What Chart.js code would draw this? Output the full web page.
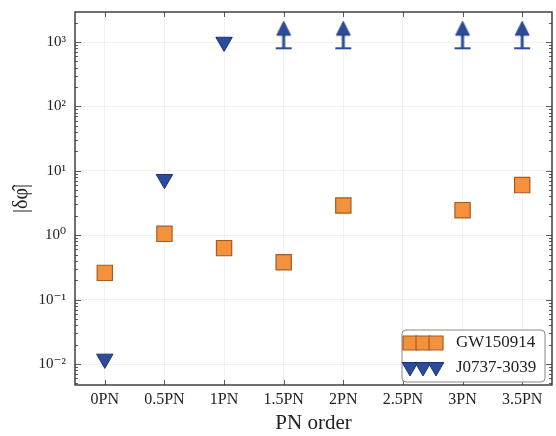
<!DOCTYPE html>
<html>
<head>
<meta charset="utf-8">
<script src="https://cdn.jsdelivr.net/npm/chart.js@4/dist/chart.umd.min.js"></script>
<style>
html,body{margin:0;padding:0;background:#fff;}
#wrap{width:556px;height:436px;}
</style>
</head>
<body>
<div id="wrap"><canvas id="c" width="556" height="436"></canvas></div>
<script>
// ---- data ----
const categories = ['0PN','0.5PN','1PN','1.5PN','2PN','2.5PN','3PN','3.5PN'];
const gwValues   = [0.26, 1.05, 0.63, 0.38, 2.9, null, 2.45, 6.0];
const psrValues  = [0.012, 7.4, 1000, null, null, null, null, null];
const psrLimits  = [null, null, null, 800, 800, null, 800, 800];
const seriesNames = ['GW150914', 'J0737-3039'];
const yTickLabels = {'-2':'10⁻²','-1':'10⁻¹','0':'10⁰','1':'10¹','2':'10²','3':'10³'};
const yMin = 4.72e-3, yMax = 2925;

const ORANGE = '#f2923d', ORANGE_EDGE = '#a65a22';
const BLUE = '#2b4c9b', BLUE_EDGE = '#1c3372';
const SERIF = '"Liberation Serif", "DejaVu Serif", serif';

function isDecade(v){ const l = Math.log10(v); return Math.abs(l - Math.round(l)) < 1e-9; }

function makeArrow(){
  const c = document.createElement('canvas');
  c.width = 20; c.height = 58;
  const g = c.getContext('2d');
  const cx = 10, cy = 29;
  g.strokeStyle = BLUE; g.fillStyle = BLUE;
  g.lineWidth = 2;
  g.beginPath(); g.moveTo(cx-8, cy); g.lineTo(cx+8, cy); g.stroke();
  g.lineWidth = 3;
  g.beginPath(); g.moveTo(cx, cy); g.lineTo(cx, cy-14); g.stroke();
  g.beginPath(); g.moveTo(cx, cy-27); g.lineTo(cx-7, cy-13); g.lineTo(cx+7, cy-13); g.closePath(); g.fill();
  g.strokeStyle = BLUE_EDGE; g.lineWidth = 0.8; g.stroke();
  return c;
}
const arrowImg = makeArrow();

function drawSquare(ctx, x, y, s){
  ctx.beginPath(); ctx.rect(x - s/2, y - s/2, s, s);
  ctx.fillStyle = ORANGE; ctx.fill();
  ctx.strokeStyle = ORANGE_EDGE; ctx.lineWidth = 1.2; ctx.stroke();
}
function drawTri(ctx, x, y, r){
  ctx.beginPath();
  ctx.moveTo(x, y + r);
  ctx.lineTo(x - r*Math.sqrt(3)/2, y - r/2);
  ctx.lineTo(x + r*Math.sqrt(3)/2, y - r/2);
  ctx.closePath();
  ctx.fillStyle = BLUE; ctx.fill();
  ctx.strokeStyle = BLUE_EDGE; ctx.lineWidth = 1; ctx.stroke();
}

const framePlugin = {
  id: 'frame',
  afterDraw(chart){
    const {ctx, chartArea: a, scales} = chart;
    ctx.save();
    ctx.strokeStyle = '#333';
    const ys = scales.y;
    ctx.lineWidth = 0.8;
    ctx.beginPath();
    for (let n = -3; n <= 3; n++){
      for (let k = 1; k <= 9; k++){
        const v = k * Math.pow(10, n);
        if (v < yMin || v > yMax) continue;
        const py = Math.round(ys.getPixelForValue(v)) + 0.5;
        const len = k === 1 ? 6 : 3;
        ctx.moveTo(a.left, py); ctx.lineTo(a.left + len, py);
        ctx.moveTo(a.right, py); ctx.lineTo(a.right - len, py);
      }
    }
    const xs = scales.x;
    for (let i = 0; i < categories.length; i++){
      const px = Math.round(xs.getPixelForValue(i)) + 0.5;
      ctx.moveTo(px, a.bottom); ctx.lineTo(px, a.bottom - 5);
      ctx.moveTo(px, a.top); ctx.lineTo(px, a.top + 5);
    }
    ctx.stroke();
    ctx.lineWidth = 1.4;
    ctx.strokeRect(a.left, a.top, a.right - a.left, a.bottom - a.top);

    // legend
    const lx = 402, ly = 330, lw = 143, lh = 52, r = 4;
    ctx.beginPath();
    ctx.moveTo(lx + r, ly); ctx.lineTo(lx + lw - r, ly); ctx.arcTo(lx + lw, ly, lx + lw, ly + r, r);
    ctx.lineTo(lx + lw, ly + lh - r); ctx.arcTo(lx + lw, ly + lh, lx + lw - r, ly + lh, r);
    ctx.lineTo(lx + r, ly + lh); ctx.arcTo(lx, ly + lh, lx, ly + lh - r, r);
    ctx.lineTo(lx, ly + r); ctx.arcTo(lx, ly, lx + r, ly, r);
    ctx.closePath();
    ctx.fillStyle = 'rgba(255,255,255,0.9)'; ctx.fill();
    ctx.strokeStyle = '#888'; ctx.lineWidth = 1; ctx.stroke();
    const mx = [410, 423, 436];
    mx.forEach(x => drawSquare(ctx, x, 343, 14));
    mx.forEach(x => drawTri(ctx, x, 367, 9));
    ctx.fillStyle = '#222';
    ctx.font = '17px ' + SERIF;
    ctx.textAlign = 'left'; ctx.textBaseline = 'middle';
    ctx.fillText(seriesNames[0], 456, 343);
    ctx.fillText(seriesNames[1], 456, 368);
    ctx.restore();
  }
};

new Chart(document.getElementById('c'), {
  type: 'line',
  data: {
    labels: categories,
    datasets: [
      { label: seriesNames[0], data: gwValues, showLine: false,
        pointStyle: 'rect', pointRadius: 10.8, pointHoverRadius: 10.8,
        backgroundColor: ORANGE, borderColor: ORANGE_EDGE, pointBorderWidth: 1.2 },
      { label: seriesNames[1], data: psrValues, showLine: false,
        pointStyle: 'triangle', rotation: 180, pointRadius: 9.5, pointHoverRadius: 9.5,
        backgroundColor: BLUE, borderColor: BLUE_EDGE, pointBorderWidth: 1 },
      { label: seriesNames[1] + ' (lower limits)', data: psrLimits, showLine: false,
        pointStyle: arrowImg, pointRadius: 3, pointHoverRadius: 3,
        backgroundColor: BLUE, borderColor: BLUE }
    ]
  },
  options: {
    responsive: false,
    animation: false,
    clip: false,
    layout: { autoPadding: false, padding: { top: 12, right: 4, left: 0, bottom: 0 } },
    plugins: { legend: { display: false }, tooltip: { enabled: false } },
    scales: {
      x: {
        type: 'category',
        offset: true,
        grid: { display: true, drawTicks: false, color: 'rgba(0,0,0,0.05)' },
        border: { display: false },
        ticks: { color: '#222', font: { family: SERIF, size: 16 }, padding: 5, maxRotation: 0, autoSkip: false },
        title: { display: true, text: 'PN order', color: '#222', font: { family: SERIF, size: 21 }, padding: { top: 0, bottom: 0 } },
        afterFit(s){ s.height = 51; s.paddingLeft = 0; s.paddingRight = 0; }
      },
      y: {
        type: 'logarithmic',
        min: yMin, max: yMax,
        grid: { drawTicks: false, color: (c) => (c.tick && isDecade(c.tick.value)) ? 'rgba(0,0,0,0.05)' : 'rgba(0,0,0,0)' },
        border: { display: false },
        ticks: {
          color: '#222', font: { family: SERIF, size: 15 }, padding: 9, autoSkip: false,
          callback: (v) => isDecade(v) ? (yTickLabels[String(Math.round(Math.log10(v)))] || '') : ''
        },
        title: { display: true, text: '|δφ̂|', color: '#222', font: { family: SERIF, size: 20 }, padding: { top: 10, bottom: 0 } },
        afterFit(s){ s.width = 75; s.paddingTop = 0; s.paddingBottom = 0; }
      }
    }
  },
  plugins: [framePlugin]
});
</script>
</body>
</html>
